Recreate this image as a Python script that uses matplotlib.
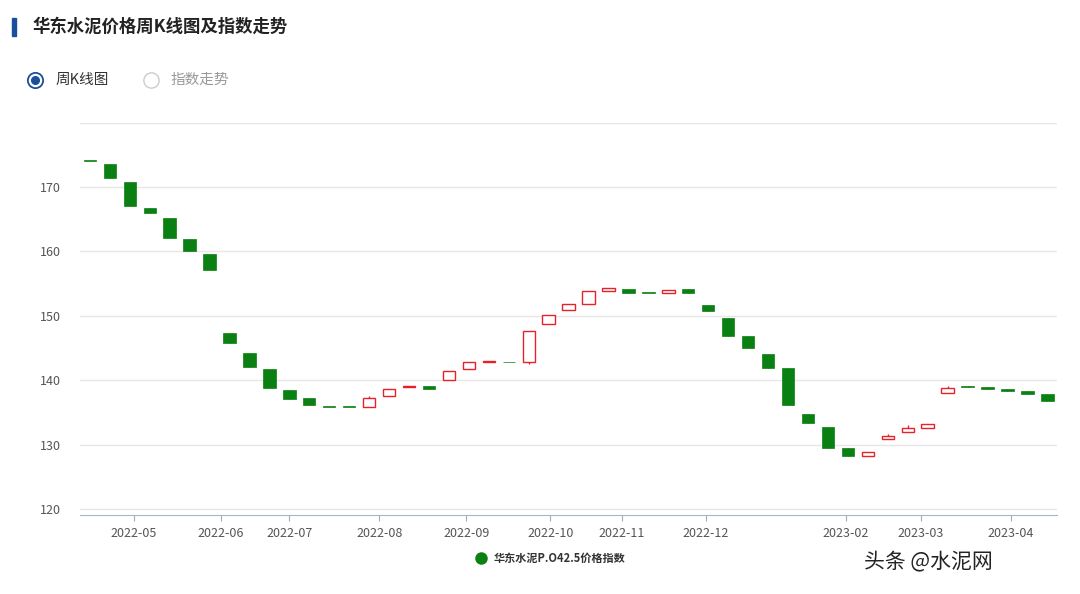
import matplotlib
matplotlib.use("Agg")
import matplotlib.pyplot as plt
from matplotlib.patches import Rectangle
from matplotlib.lines import Line2D
import numpy as np

plt.rcParams['font.family'] = ['Noto Sans CJK SC', 'DejaVu Sans']

opens  = [174.05,173.6,170.8,166.8,165.15,162.0,159.6,147.3,144.2,141.7,138.5,137.2,135.9,135.9,135.8,137.6,138.9,139.05,140.0,141.7,142.8,142.8,142.9,148.7,150.9,151.9,153.8,154.2,153.6,153.55,154.1,151.7,149.7,146.9,144.0,141.9,134.7,132.8,129.4,128.3,130.8,132.0,132.5,137.95,139.1,138.95,138.7,138.3,137.9]
closes = [174.0,171.45,167.0,166.0,162.1,160.05,157.1,145.7,142.0,138.8,137.1,136.1,135.85,135.85,137.3,138.6,139.0,138.7,141.35,142.9,142.85,142.75,147.7,150.2,151.9,153.9,154.3,153.5,153.55,154.0,153.55,150.7,146.9,145.0,141.9,136.1,133.3,129.4,128.3,128.85,131.4,132.5,133.25,138.75,138.9,138.6,138.3,137.85,136.7]
highs  = [None]*49
lows   = [None]*49
highs[14] = 137.5; lows[22] = 142.5; highs[40] = 131.7; highs[41] = 133.0; highs[43] = 139.05
month_labels = ["2022-05","2022-06","2022-07","2022-08","2022-09","2022-10","2022-11","2022-12","2023-02","2023-03","2023-04"]
month_pos = [2.21,6.58,9.99,14.51,18.88,23.09,26.66,30.87,37.9,41.67,46.18]
y_ticks = [120,130,140,150,160,170,180]

GREEN = "#0a8012"; RED = "#e8202a"
fig = plt.figure(figsize=(10.8,5.94), dpi=100)
ax = fig.add_axes([0.074,0.1323,0.905,0.6613])
w = 0.62
for i,(o,c) in enumerate(zip(opens,closes)):
    lo, hi = min(o,c), max(o,c)
    h = highs[i] if highs[i] is not None else hi
    l = lows[i] if lows[i] is not None else lo
    up = c > o
    col = RED if up else GREEN
    ax.vlines(i, l, h, color=col, lw=1, zorder=2)
    height = max(hi-lo, 0.12)
    if up:
        ax.add_patch(Rectangle((i-w/2, lo), w, height, facecolor="white", edgecolor=col, lw=1, zorder=3))
    else:
        ax.add_patch(Rectangle((i-w/2, lo), w, height, facecolor=col, edgecolor=col, lw=0.5, zorder=3))

ax.set_xlim(-0.5, 48.5)
ax.set_ylim(119.0, 180.0)
ax.set_yticks(y_ticks)
ax.set_yticklabels([str(t) if t < 180 else "" for t in y_ticks], color="#555555", fontsize=9)
ax.yaxis.grid(True, color="#e6e6e6", lw=1)
ax.set_axisbelow(True)
ax.tick_params(axis='y', length=0, pad=14)
ax.set_xticks(month_pos)
ax.set_xticklabels(month_labels, color="#555555", fontsize=9)
ax.tick_params(axis='x', length=4, color="#aaaaaa", pad=4)
for s in ["top","right","left"]:
    ax.spines[s].set_visible(False)
ax.spines["bottom"].set_color("#aab4c8")

def dot(x, y, **kw):
    fig.add_artist(Line2D([x],[y], transform=fig.transFigure, linestyle="none", marker="o", **kw))

# header
fig.add_artist(Rectangle((0.011,0.94),0.004,0.03, transform=fig.transFigure, color="#1a4f9c"))
fig.text(0.03,0.955,"华东水泥价格周K线图及指数走势", fontsize=12.5, fontweight="bold", color="#222222", va="center")
dot(0.032,0.866, markersize=11, markerfacecolor="white", markeredgecolor="#1a4f9c", markeredgewidth=1.3)
dot(0.032,0.866, markersize=5.5, markerfacecolor="#1a4f9c", markeredgecolor="#1a4f9c")
fig.text(0.051,0.866,"周K线图", fontsize=10.5, color="#333333", va="center")
dot(0.140,0.866, markersize=11, markerfacecolor="white", markeredgecolor="#cccccc", markeredgewidth=1)
fig.text(0.158,0.866,"指数走势", fontsize=10.5, color="#999999", va="center")
# legend
dot(0.445,0.06, markersize=8, color=GREEN)
fig.text(0.457,0.06,"华东水泥P.O42.5价格指数", fontsize=8, color="#333333", va="center", fontweight="bold")
fig.text(0.8,0.055,"头条 @水泥网", fontsize=15, color="#222222", va="center")
fig.savefig("out.png", dpi=100, facecolor="white")
